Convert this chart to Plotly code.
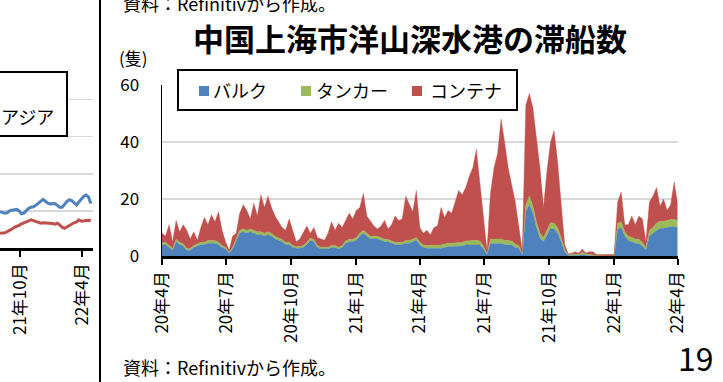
import plotly.graph_objects as go
import pandas as pd

# ---------------- data : main chart (5-day readings, Apr 2020 - Apr 2022) ----------------
dates = pd.date_range("2020-04-01", periods=147, freq="5D")

bulk = [3.9, 4, 3, 2, 5, 4, 3.5, 2, 2, 3,
        3.5, 4, 4, 4.5, 4.5, 4.5, 4, 3, 2.5, 1,
        2.5, 5, 8, 8.5, 8, 8.5, 8, 7.5, 7.5, 7,
        7.5, 7, 6, 5.5, 5, 4, 4, 3, 2.7, 2.7,
        3, 4, 5.5, 5, 3, 2.5, 2.5, 2.5, 3, 3,
        2.5, 3, 4.5, 5, 5, 5.5, 7, 8, 7, 6,
        6, 6, 5.5, 5, 5, 4.5, 4, 4, 4, 4.5,
        4.5, 5, 5.5, 3.9, 3, 2.7, 2.7, 2.7, 2.7, 2.7,
        3, 3.3, 3.3, 3.3, 3.5, 3.5, 3.9, 3.9, 4, 4,
        3.9, 2.5, 0.5, 4.4, 4.4, 4.4, 4.4, 4, 4, 3.9,
        3, 2.7, 0.5, 15.5, 18, 15, 10, 6.2, 5, 7.4,
        9.7, 9.5, 8, 5, 1.5, 0.2, 0.3, 0.3, 0.2, 0.5,
        0.3, 0.3, 0.2, 0, 0, 0, 0, 0, 0, 9.5,
        10, 7, 5.5, 5, 4.5, 4.4, 3.5, 2, 7, 8,
        9, 9.7, 9.7, 10, 10.3, 10.3, 10]

tanker = [0.8, 0.8, 0.7, 0.6, 0.8, 0.8, 0.8, 0.6, 0.6, 0.7,
          0.7, 0.8, 0.8, 0.9, 0.9, 0.9, 0.8, 0.7, 0.6, 0.3,
          0.6, 0.8, 1, 1, 1, 1, 1, 1, 1, 1,
          1, 1, 0.9, 0.9, 0.8, 0.8, 0.8, 0.7, 0.6, 0.6,
          0.7, 0.8, 0.8, 0.8, 0.7, 0.6, 0.6, 0.6, 0.7, 0.7,
          0.6, 0.7, 0.8, 0.9, 0.9, 0.9, 1, 1, 1, 0.9,
          0.9, 0.9, 0.9, 0.9, 0.8, 0.8, 0.8, 0.8, 0.8, 0.9,
          0.9, 0.9, 1, 0.9, 0.9, 1, 1, 1.1, 1.1, 1.2,
          1.2, 1.2, 1.2, 1.3, 1.3, 1.3, 1.4, 1.5, 1.5, 1.5,
          1.4, 1, 0.3, 1.5, 1.6, 1.6, 1.6, 1.5, 1.5, 1.4,
          1.2, 1, 0.3, 2.5, 3, 2.5, 2, 1.8, 1.5, 1.8,
          2, 2, 2, 1.5, 0.8, 0.2, 0.2, 0.4, 0.3, 0.8,
          0.3, 0.3, 0.2, 0.1, 0, 0, 0, 0, 0, 2,
          2, 1.5, 1.5, 1.5, 1.5, 1.5, 1.2, 1, 2, 2,
          2.5, 2.5, 2.5, 2.5, 2.5, 2.5, 2.5]

container = [3.3, 2.2, 7.3, 2.4, 6.7, 3.7, 6.7, 6.4, 3.4, 4.8,
             1.3, 5.2, 8.7, 5.6, 9.1, 6.6, 10.7, 5.3, 1.9, 0.7,
             3.9, 2.2, 6, 8.5, 7, 3.5, 9.5, 5.5, 13, 9,
             12.5, 9, 7.1, 5.6, 4.2, 4.2, 8.2, 5.3, 1.7, 2.7,
             4.8, 5.7, 1.7, 4.2, 2.8, 2.9, 2.4, 4.9, 8.3, 5.3,
             8.4, 6.3, 7.2, 9.1, 7.1, 9.6, 9, 13, 6, 5.1,
             3.6, 2.6, 4.1, 6.6, 3.7, 5.7, 9.2, 7.7, 8.2, 15.6,
             12.6, 9.6, 16.5, 5.2, 4.1, 5.3, 3.8, 6.2, 6.7, 13.1,
             9.3, 11.5, 10.5, 14.4, 18.2, 16.7, 18.7, 22.6, 25.5, 32,
             20.7, 11.5, 1.2, 16.1, 25, 30, 42, 34.5, 25.5, 19.7,
             14.8, 6.8, 0.7, 35, 36, 34.5, 30, 23, 10.5, 20.8,
             28.3, 32.5, 23, 11.5, 1.7, 0.4, 0.5, 0.8, 0.5, 1.2,
             0.4, 0.9, 1.1, 0.4, 0.5, 0.5, 0.5, 0.5, 0.5, 7.5,
             10.5, 2.5, 4, 7.5, 5, 8.1, 8.3, 2, 10, 11,
             12.5, 5.3, 7.8, 3.5, 5.2, 13.2, 5.5]

series_names = ["バルク", "タンカー", "コンテナ"]
x_tickvals = ["2020-04-01", "2020-07-01", "2020-10-01", "2021-01-01", "2021-04-01",
              "2021-07-01", "2021-10-01", "2022-01-01", "2022-04-01"]
x_ticktext = ["20年4月", "20年7月", "20年10月", "21年1月", "21年4月",
              "21年7月", "21年10月", "22年1月", "22年4月"]
y_tickvals = [0, 20, 40, 60]

# ---------------- data : left (partially visible) chart ----------------
left_dates = pd.date_range("2021-08-03", periods=39, freq="7D")
left_blue = [9.8, 9.6, 9.4, 9.5, 10.0, 10.2, 10.3, 10.4, 10.0, 9.2,
             9.4, 10.2, 10.7, 11.0, 11.1, 11.5, 12.1, 12.6, 13.1, 12.6,
             12.1, 11.9, 11.9, 12.0, 11.5, 11.0, 11.0, 11.9, 12.5, 13.0,
             12.8, 12.2, 11.6, 12.4, 13.3, 13.9, 14.3, 13.8, 12.0]
left_red = [4.0, 4.0, 4.1, 4.4, 4.7, 5.1, 5.6, 5.8, 6.1, 6.5,
            6.8, 6.9, 7.4, 7.6, 7.4, 7.1, 6.9, 6.7, 6.8, 6.8,
            6.6, 6.6, 6.6, 6.4, 6.7, 6.2, 5.6, 5.3, 5.7, 6.1,
            6.6, 6.8, 7.0, 7.6, 7.2, 7.3, 7.4, 7.5, 7.4]
left_tickvals = ["2021-10-01", "2022-04-01"]
left_ticktext = ["21年10月", "22年4月"]

# ---------------- styling ----------------
W, H = 723, 382
FONT = "Noto Sans CJK JP"
BLUE, GREEN, RED = "#4f81bd", "#9bbb59", "#c0504d"
GRID = "#d9d9d9"


def px(x):
    return x / W


def py(y):
    return 1 - y / H


fig = go.Figure()
for vals, name, col in zip([bulk, tanker, container], series_names, [BLUE, GREEN, RED]):
    fig.add_trace(go.Scatter(x=dates, y=vals, name=name, stackgroup="one", mode="lines",
                             line=dict(width=0.4, color=col), fillcolor=col,
                             xaxis="x", yaxis="y"))

fig.add_trace(go.Scatter(x=left_dates, y=left_blue, mode="lines",
                         line=dict(width=3, color=BLUE), xaxis="x2", yaxis="y2"))
fig.add_trace(go.Scatter(x=left_dates, y=left_red, mode="lines",
                         line=dict(width=3, color=RED), xaxis="x2", yaxis="y2"))

tickfont = dict(family=FONT, size=17, color="black")

fig.update_layout(
    template="none",
    width=W, height=H, margin=dict(l=0, r=0, t=0, b=0, pad=0, autoexpand=False),
    paper_bgcolor="white", plot_bgcolor="white", showlegend=False,
    font=dict(family=FONT, color="black"),
    xaxis=dict(domain=[px(162), px(677.7)], anchor="y", type="date", automargin=False,
               range=["2020-04-01", "2022-04-01"],
               tickmode="array", tickvals=x_tickvals, ticktext=x_ticktext,
               tickangle=-90, ticks="outside", ticklen=6, tickwidth=2, tickcolor="black",
               showline=True, linecolor="black", linewidth=2.5, showgrid=False,
               zeroline=False, tickfont=tickfont),
    yaxis=dict(domain=[py(256), py(85)], anchor="x", range=[0, 60], automargin=False,
               tickmode="array", tickvals=y_tickvals,
               showgrid=True, gridcolor=GRID, gridwidth=1.5,
               showline=True, linecolor="black", linewidth=1.5, ticks="",
               zeroline=False, tickfont=tickfont, ticklabelstandoff=18),
    xaxis2=dict(domain=[0, px(92.5)], anchor="y2", type="date", automargin=False,
                range=["2021-08-03", "2022-05-01"],
                tickmode="array", tickvals=left_tickvals, ticktext=left_ticktext,
                tickangle=-90, ticks="outside", ticklen=6, tickwidth=2, tickcolor="black",
                showline=True, linecolor="black", linewidth=2.5, showgrid=False,
                zeroline=False, tickfont=tickfont),
    yaxis2=dict(domain=[py(248), py(90)], anchor="x2", range=[0, 42.6], automargin=False,
                tickmode="array", tickvals=[10, 20, 30, 40], showticklabels=False,
                showgrid=True, gridcolor=GRID, gridwidth=1.5, showline=False,
                zeroline=False),
)

shapes = [
    dict(type="line", xref="paper", yref="paper", x0=px(100), x1=px(100), y0=0, y1=1,
         line=dict(color="black", width=2)),
    dict(type="rect", xref="paper", yref="paper", x0=px(-5), x1=px(67), y0=py(136), y1=py(72),
         line=dict(color="black", width=2), fillcolor="white", layer="above"),
    dict(type="rect", xref="paper", yref="paper", x0=px(178), x1=px(517), y0=py(110), y1=py(70),
         line=dict(color="black", width=2), fillcolor="white", layer="above"),
]
legend_sq_x = [199, 301, 412]
legend_txt_x = [211, 314, 428]
for sx, col in zip(legend_sq_x, [BLUE, GREEN, RED]):
    shapes.append(dict(type="rect", xref="paper", yref="paper", x0=px(sx), x1=px(sx + 10),
                       y0=py(96), y1=py(86), line=dict(width=0), fillcolor=col, layer="above"))
fig.update_layout(shapes=shapes)

ann = []
for tx, name in zip(legend_txt_x, series_names):
    ann.append(dict(text=name, x=px(tx), y=py(90), xref="paper", yref="paper",
                    xanchor="left", yanchor="middle", showarrow=False,
                    font=dict(family=FONT, size=18, color="black")))
ann += [
    dict(text="アジア", x=px(56), y=py(116), xref="paper", yref="paper",
         xanchor="right", yanchor="middle", showarrow=False,
         font=dict(family=FONT, size=18, color="black")),
    dict(text="<b>中国上海市洋山深水港の滞船数</b>", x=px(410), y=py(38), xref="paper", yref="paper",
         xanchor="center", yanchor="middle", showarrow=False,
         font=dict(family=FONT, size=31, color="black")),
    dict(text="(隻)", x=px(117), y=py(57), xref="paper", yref="paper",
         xanchor="left", yanchor="middle", showarrow=False,
         font=dict(family=FONT, size=17, color="black")),
    dict(text="資料：Refinitivから作成。", x=px(121), y=py(3), xref="paper", yref="paper",
         xanchor="left", yanchor="middle", showarrow=False,
         font=dict(family=FONT, size=18, color="black")),
    dict(text="資料：Refinitivから作成。", x=px(121), y=py(367), xref="paper", yref="paper",
         xanchor="left", yanchor="middle", showarrow=False,
         font=dict(family=FONT, size=18, color="black")),
    dict(text="19", x=px(716), y=py(357), xref="paper", yref="paper",
         xanchor="right", yanchor="middle", showarrow=False,
         font=dict(family=FONT, size=32, color="black")),
]
fig.update_layout(annotations=ann)

fig.write_html("out.html",
               config={"displayModeBar": False, "staticPlot": True},
               post_script="document.body.style.margin='0px';"
                           "document.body.style.overflow='hidden';")
